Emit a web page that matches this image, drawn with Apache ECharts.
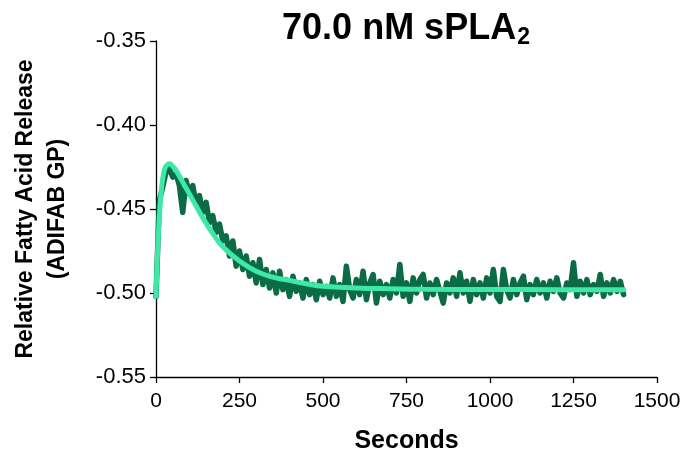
<!DOCTYPE html>
<html>
<head>
<meta charset="utf-8">
<script src="https://cdn.jsdelivr.net/npm/echarts@6/dist/echarts.min.js"></script>
<style>html,body{margin:0;padding:0;background:#fff}#c{width:686px;height:462px}</style>
</head>
<body>
<div id="c"></div>
<script>
// time step of measured data (seconds)
const dataStep = 10;
// measured ADIFAB GP values, one per 10 s from 0 to 1400 s
const measured = [
-0.502,-0.445,-0.437,-0.428,-0.426,-0.431,-0.429,-0.436,-0.452,-0.433,
-0.441,-0.436,-0.447,-0.442,-0.452,-0.446,-0.458,-0.454,-0.464,-0.459,
-0.469,-0.466,-0.478,-0.469,-0.484,-0.475,-0.486,-0.478,-0.490,-0.482,
-0.494,-0.480,-0.495,-0.486,-0.497,-0.488,-0.500,-0.487,-0.498,-0.492,
-0.502,-0.490,-0.499,-0.494,-0.503,-0.492,-0.501,-0.495,-0.504,-0.493,
-0.501,-0.496,-0.503,-0.491,-0.502,-0.495,-0.505,-0.484,-0.498,-0.503,
-0.492,-0.501,-0.487,-0.504,-0.494,-0.489,-0.506,-0.493,-0.501,-0.495,
-0.503,-0.492,-0.500,-0.483,-0.502,-0.494,-0.505,-0.491,-0.500,-0.492,
-0.489,-0.503,-0.494,-0.501,-0.492,-0.499,-0.506,-0.494,-0.500,-0.491,
-0.502,-0.488,-0.500,-0.493,-0.505,-0.492,-0.501,-0.494,-0.503,-0.491,
-0.500,-0.486,-0.502,-0.505,-0.486,-0.498,-0.503,-0.492,-0.501,-0.494,
-0.490,-0.504,-0.495,-0.501,-0.492,-0.500,-0.494,-0.503,-0.493,-0.499,
-0.491,-0.500,-0.503,-0.494,-0.498,-0.482,-0.502,-0.493,-0.500,-0.492,
-0.501,-0.495,-0.499,-0.489,-0.502,-0.494,-0.500,-0.492,-0.499,-0.493,
-0.501
];
// fitted curve: time (s) and value
const fitTime = [0,5,10,15,20,25,30,40,50,60,80,100,125,150,175,200,250,300,350,400,450,500,600,700,800,1000,1200,1400];
const fitValue = [-0.502,-0.474,-0.455,-0.441,-0.432,-0.427,-0.4245,-0.423,-0.4245,-0.427,-0.434,-0.441,-0.450,-0.4585,-0.466,-0.4725,-0.481,-0.487,-0.4905,-0.4925,-0.4945,-0.496,-0.497,-0.4975,-0.4978,-0.4979,-0.498,-0.498];
// axis ticks
const xTicks = [0,250,500,750,1000,1250,1500];
const yTicks = [-0.55,-0.50,-0.45,-0.40,-0.35];

const measuredPts = measured.map((v,i)=>[i*dataStep, v]);
const fitPts = fitTime.map((t,i)=>[t, fitValue[i]]);

const chart = echarts.init(document.getElementById('c'));
const font = 'Liberation Sans, Arial, sans-serif';
chart.setOption({
  animation:false,
  backgroundColor:'#fff',
  title:{
    text:'{a|70.0 nM sPLA}{s|2}',
    left:401, textAlign:'center', top:2,
    textStyle:{
      rich:{
        a:{fontFamily:font,fontWeight:'bold',fontSize:36,color:'#000',lineHeight:44},
        s:{fontFamily:font,fontWeight:'bold',fontSize:23,color:'#000',lineHeight:44,padding:[18,0,0,1]}
      }
    }
  },
  grid:{left:156,right:29,top:41,bottom:85,containLabel:false,outerBoundsMode:'none'},
  xAxis:{
    type:'value',min:xTicks[0],max:xTicks[xTicks.length-1],interval:250,
    name:'Seconds',nameLocation:'middle',nameGap:52,
    nameTextStyle:{fontFamily:font,fontWeight:'bold',fontSize:25,color:'#000'},
    axisLine:{lineStyle:{color:'#000',width:1.3}},
    axisTick:{length:6,lineStyle:{color:'#000',width:1.3}},
    axisLabel:{fontFamily:font,fontSize:21,color:'#000',margin:14,formatter:v=>String(v)},
    splitLine:{show:false}
  },
  yAxis:{
    type:'value',min:yTicks[0],max:yTicks[yTicks.length-1],interval:0.05,
    name:'Relative Fatty Acid Release\n(ADIFAB GP)',nameLocation:'middle',nameGap:82,
    nameTextStyle:{fontFamily:font,fontWeight:'bold',fontSize:23,color:'#000',lineHeight:32,align:'center'},
    axisLine:{show:true,lineStyle:{color:'#000',width:1.3}},
    axisTick:{show:true,length:6,lineStyle:{color:'#000',width:1.3}},
    axisLabel:{fontFamily:font,fontSize:22,color:'#000',margin:10,formatter:v=>v.toFixed(2)},
    splitLine:{show:false}
  },
  series:[
    {type:'line',data:measuredPts,showSymbol:false,lineStyle:{color:'#0b6b45',width:5.5,join:'round',cap:'round'},z:2},
    {type:'line',data:fitPts,smooth:true,showSymbol:false,lineStyle:{color:'#3de8a9',width:5,cap:'round'},z:3}
  ]
});
</script>
</body>
</html>
